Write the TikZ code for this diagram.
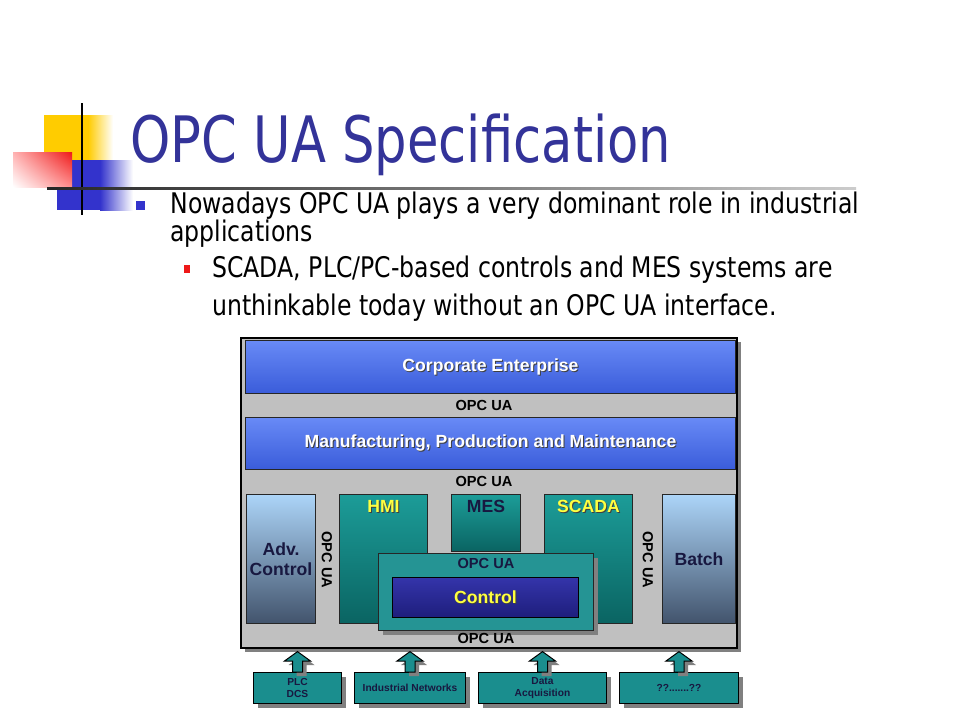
\documentclass[tikz,border=0pt]{standalone}
\usepackage{fontspec}
\newfontfamily\slidefont{DejaVu Sans}[FakeStretch=0.8]
\newfontfamily\bodyfont{DejaVu Sans}[FakeStretch=0.83]
\newfontfamily\diagfont{Liberation Sans}
\usetikzlibrary{positioning,calc,shadows,shadings}

\definecolor{titleblue}{RGB}{51,51,153}
\definecolor{bulletblue}{RGB}{51,51,204}
\definecolor{bulletred}{RGB}{238,24,24}
\definecolor{decoyellow}{RGB}{255,204,0}
\definecolor{decoblue}{RGB}{51,51,204}
\definecolor{panelgray}{RGB}{192,192,192}
\definecolor{bandtop}{RGB}{104,138,246}
\definecolor{bandbot}{RGB}{58,92,218}
\definecolor{tealtop}{RGB}{28,156,152}
\definecolor{tealbot}{RGB}{10,100,98}
\definecolor{skytop}{RGB}{172,212,248}
\definecolor{skybot}{RGB}{66,84,108}
\definecolor{navytop}{RGB}{52,52,170}
\definecolor{navybot}{RGB}{30,30,124}
\definecolor{labelnavy}{RGB}{24,24,64}
\definecolor{hiyellow}{RGB}{255,255,64}
\definecolor{feedteal}{RGB}{26,142,142}

\newcommand{\shtext}[1]{\rlap{\kern0.5pt\raisebox{-0.5pt}{\color{black!75}#1}}#1}

\tikzset{
  boxshadow/.style={drop shadow={shadow xshift=2pt, shadow yshift=-2pt, fill=black!50, opacity=1}},
  diagtext/.style={font=\diagfont\bfseries\fontsize{8.8}{10}\selectfont},
  opclabel/.style={font=\diagfont\bfseries\fontsize{7.3}{8}\selectfont, inner sep=0pt},
  panel/.style={draw=black, line width=0.8pt, fill=panelgray, anchor=north west, inner sep=0pt, boxshadow},
  band/.style={draw=black!85, line width=0.5pt, top color=bandtop, bottom color=bandbot, anchor=north west,
    inner sep=0pt, text=white, diagtext},
  tealbox/.style={draw=black!85, line width=0.5pt, top color=tealtop, bottom color=tealbot, anchor=north west,
    inner sep=0pt, diagtext, text depth=0pt},
  skybox/.style={draw=black!85, line width=0.5pt, top color=skytop, bottom color=skybot, anchor=north west,
    inner sep=0pt, diagtext, text=labelnavy, align=center},
  ctrlbox/.style={draw=black!85, line width=0.5pt, fill=feedteal!95!white, anchor=north west, inner sep=0pt, boxshadow},
  navybox/.style={draw=black, line width=0.5pt, top color=navytop, bottom color=navybot, anchor=north west,
    inner sep=0pt, diagtext, text=hiyellow},
  feedbox/.style={draw=black, line width=0.5pt, fill=feedteal, anchor=north west, inner sep=0pt, boxshadow,
    font=\diagfont\bfseries\fontsize{5.1}{6}\selectfont, text=labelnavy, align=center, minimum height=15.5pt},
  feedarrow/.style={draw=black, line width=0.5pt, fill=feedteal, line join=miter, boxshadow},
  slidetext/.style={font=\bodyfont\fontsize{14.2}{16}\selectfont, anchor=base west, inner sep=0pt}
}

\begin{document}
\begin{tikzpicture}[x=0.5pt, y=-0.5pt]
  \fill[white] (0,0) rectangle (960,720);
  \useasboundingbox (0,0) rectangle (960,720);

  % corner decoration
  \fill[decoyellow] (44,115) rectangle (88,160);
  \shade[left color=decoyellow, right color=white] (88,115) rectangle (113,160);
  \fill[decoblue] (57,160) rectangle (100,210);
  \shade[left color=decoblue, right color=white] (100,160) rectangle (133,210);
  \shade[shading=bilinear interpolation, upper right=bulletred, upper left=red!30, lower right=red!45, lower left=white]
    (13,152) rectangle (72,187);
  \draw[black, line width=1pt] (82,103) -- (82,215);
  \shade[left color=black!85, right color=black!20] (47,187) rectangle (856,189.5);

  % title and bullets
  \node[anchor=base west, inner sep=0pt, text=titleblue, font=\slidefont\fontsize{32}{36}\selectfont]
    (title) at (130,162) {OPC UA Specification};
  \fill[bulletblue] (136,201) rectangle (145,210);
  \node[slidetext] (pointA) at (170,213) {Nowadays OPC UA plays a very dominant role in industrial};
  \node[slidetext] (pointA2) at (170,241) {applications};
  \fill[bulletred] (184,265) rectangle (190,273);
  \node[slidetext] (pointB) at (212,277) {SCADA, PLC/PC-based controls and MES systems are};
  \node[slidetext] (pointB2) at (212,315) {unthinkable today without an OPC UA interface.};

  % layer diagram
  \node[panel, minimum width=248pt, minimum height=155pt] (outer) at (240,337) {};
  \node[band, minimum width=245pt, minimum height=26.5pt] (corp) at (245,340) {\shtext{Corporate Enterprise}};
  \node[opclabel] (opcA) at (484,405) {OPC UA};
  \node[band, minimum width=245pt, minimum height=26pt] (mfg) at (245,417) {\shtext{Manufacturing, Production and Maintenance}};
  \node[opclabel] (opcB) at (484,481) {OPC UA};

  \node[skybox, minimum width=34.5pt, minimum height=64.5pt] (adv) at (246,494) {Adv.\\Control};
  \node[opclabel, rotate=-90] (opcL) at (327,560) {OPC UA};
  \node[tealbox, minimum width=44pt, minimum height=64.5pt, text=hiyellow] (hmi) at (339,494) {};
  \node[diagtext, text=hiyellow, below=3pt of hmi.north, inner sep=0pt] (hmitext) {\shtext{HMI}};
  \node[tealbox, minimum width=34.5pt, minimum height=28.5pt] (mes) at (451,494) {};
  \node[diagtext, text=labelnavy, below=3pt of mes.north, inner sep=0pt] (mestext) {MES};
  \node[tealbox, minimum width=44pt, minimum height=64.5pt] (scada) at (544,494) {};
  \node[diagtext, text=hiyellow, below=3pt of scada.north, inner sep=0pt] (scadatext) {\shtext{SCADA}};
  \node[opclabel, rotate=-90] (opcR) at (648,560) {OPC UA};
  \node[skybox, minimum width=36.5pt, minimum height=64.5pt] (batch) at (662,494) {Batch};

  \node[ctrlbox, minimum width=107.5pt, minimum height=38.5pt] (ctrl) at (378,553) {};
  \node[opclabel, text=labelnavy] (opcC) at (486,563) {OPC UA};
  \node[navybox, minimum width=93pt, minimum height=20pt] (control) at (392,577) {\shtext{Control}};
  \node[opclabel] (opcD) at (486,638) {OPC UA};

  % field level
  \node[feedbox, minimum width=44pt] (plc) at (253,672) {PLC\\DCS};
  \node[feedbox, minimum width=55.5pt] (net) at (354,672) {Industrial Networks};
  \node[feedbox, minimum width=64pt] (daq) at (478,672) {Data\\Acquisition};
  \node[feedbox, minimum width=59.5pt] (unk) at (619,672) {??.......??};

  \foreach \b in {plc,net,daq,unk}
    \draw[feedarrow] ($(\b.north)+(-5,0)$) -- ++(0,-11) -- ++(-8,0)
      -- ($(\b.north |- outer.south)+(0,3)$) -- ($(\b.north)+(13,-11)$) -- ++(-8,0) -- ++(0,11) -- cycle;
\end{tikzpicture}
\end{document}
